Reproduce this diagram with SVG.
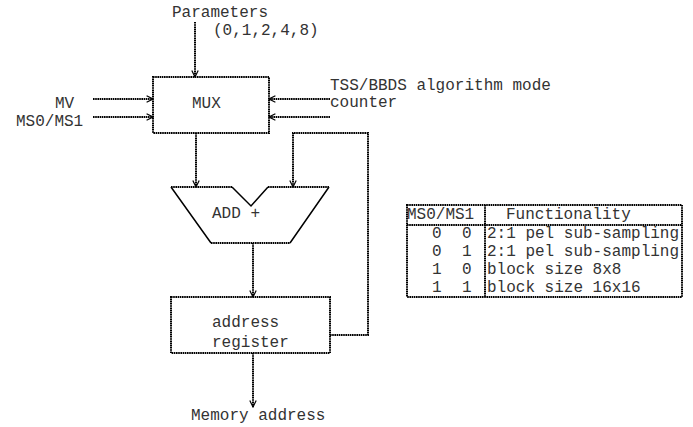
<svg xmlns="http://www.w3.org/2000/svg" width="693" height="427" viewBox="0 0 693 427">
<defs>
<marker id="arr" viewBox="0 0 10 10" refX="9" refY="5" markerWidth="8" markerHeight="8" markerUnits="userSpaceOnUse" orient="auto">
<path d="M1,1 L9,5 L1,9" fill="none" stroke="#000" stroke-width="1.5"/>
</marker>
<style>
text{font-family:"Liberation Mono","Courier New",monospace;font-size:16px;fill:#333}
.d{fill:none;stroke:#000;stroke-width:2;stroke-dasharray:1.6 0.6}
.s{fill:none;stroke:#000;stroke-width:1.5}
.a{marker-end:url(#arr)}
</style>
</defs>
<rect width="693" height="427" fill="#fff"/>
<g id="labels">
<text x="172" y="17">Parameters</text>
<text x="213" y="35">(0,1,2,4,8)</text>
<text x="55" y="108">MV</text>
<text x="16" y="126">MS0/MS1</text>
<text x="330" y="90">TSS/BBDS algorithm mode</text>
<text x="330" y="107">counter</text>
<text x="191" y="420">Memory address</text>
</g>
<g id="mux">
<rect class="d" x="153" y="77" width="116" height="56"/>
<text x="192" y="108">MUX</text>
</g>
<g id="add">
<path class="d" d="M171,187 H232 M268,187 H329 M211,243 H290"/>
<path class="s" d="M232,187 L251,206 L268,187 M329,187 L290,243 M171,187 L211,243"/>
<text x="212" y="218">ADD +</text>
</g>
<g id="register">
<rect class="d" x="171" y="297" width="159" height="56"/>
<text x="212" y="327">address</text>
<text x="212" y="347">register</text>
</g>
<g id="connectors">
<path class="d a" d="M195,22 V77"/>
<path class="d a" d="M93,99 H153"/>
<path class="d a" d="M93,117 H153"/>
<path class="d a" d="M330,99 H269"/>
<path class="d a" d="M330,117 H269"/>
<path class="d a" d="M196,133 V187"/>
<path class="d a" d="M330,335 H368 V133 H293 V187"/>
<path class="d a" d="M253,243 V297"/>
<path class="d a" d="M253,353 V407"/>
</g>
<g id="table">
<rect class="d" x="407" y="205" width="275" height="92"/>
<path class="d" d="M407,225 H682 M485,205 V297"/>
<text x="407" y="219">MS0/MS1</text>
<text x="506" y="219">Functionality</text>
<text x="432" y="238">0</text><text x="462" y="238">0</text>
<text x="432" y="256">0</text><text x="462" y="256">1</text>
<text x="432" y="274">1</text><text x="462" y="274">0</text>
<text x="432" y="292">1</text><text x="462" y="292">1</text>
<text x="487" y="238">2:1 pel sub-sampling</text>
<text x="487" y="256">2:1 pel sub-sampling</text>
<text x="487" y="274">block size 8x8</text>
<text x="487" y="292">block size 16x16</text>
</g>
</svg>
